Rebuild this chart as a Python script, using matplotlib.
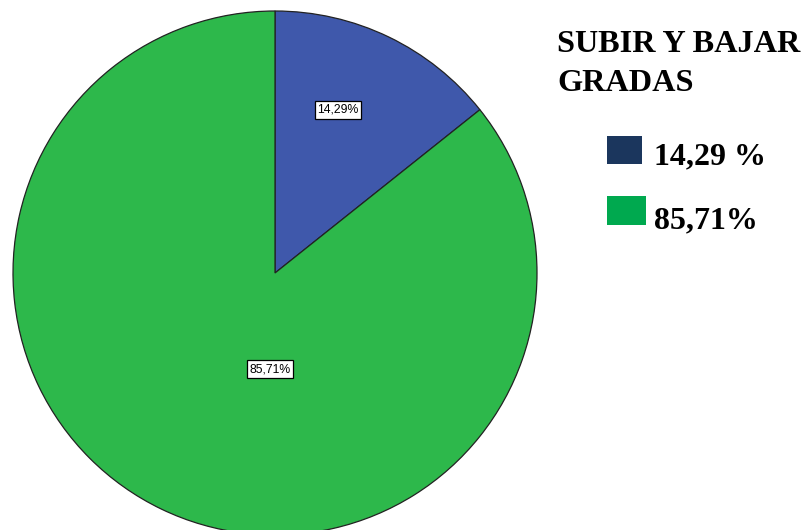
import matplotlib
matplotlib.use("Agg")
import matplotlib.pyplot as plt

categories = ["14,29 %", "85,71%"]
values = [14.29, 85.71]
slice_labels = ["14,29%", "85,71%"]
title_lines = ["SUBIR Y BAJAR", "GRADAS"]

slice_colors = ["#3F58AB", "#2DB84B"]
legend_colors = ["#1B365D", "#00A94F"]

W, H = 806, 530
fig = plt.figure(figsize=(W / 100, H / 100), dpi=100)
ax = fig.add_axes([0, 0, 1, 1])
ax.set_xlim(0, W)
ax.set_ylim(0, H)
ax.set_aspect("equal")
ax.axis("off")

cx, cy, r = 275, H - 273, 262
ax.pie(values, center=(cx, cy), radius=r, startangle=90, counterclock=False,
       colors=slice_colors, wedgeprops=dict(edgecolor="#222222", linewidth=0.9))
ax.set_xlim(0, W)
ax.set_ylim(0, H)

label_pos = [(338, H - 110), (270, H - 369)]
for (x, y), t in zip(label_pos, slice_labels):
    ax.text(x, y, t, ha="center", va="center", fontsize=8.8, family="Liberation Sans",
            bbox=dict(boxstyle="square,pad=0.22", facecolor="white", edgecolor="black", linewidth=0.9))

for ty, line in zip([52, 91], title_lines):
    ax.text(557, H - ty, line, ha="left", va="baseline", fontsize=23.2, fontweight="bold",
            family="Liberation Serif")

sq = [(607, 136, 35, 28), (607, 196, 39, 29)]
txt_y = [164, 228]
for (x, y, w, h), c, lab, ty in zip(sq, legend_colors, categories, txt_y):
    ax.add_patch(plt.Rectangle((x, H - y - h), w, h, facecolor=c, edgecolor="none"))
    ax.text(654, H - ty, lab, ha="left", va="baseline", fontsize=23, fontweight="bold",
            family="Liberation Serif")

fig.savefig("out.png", dpi=100)
